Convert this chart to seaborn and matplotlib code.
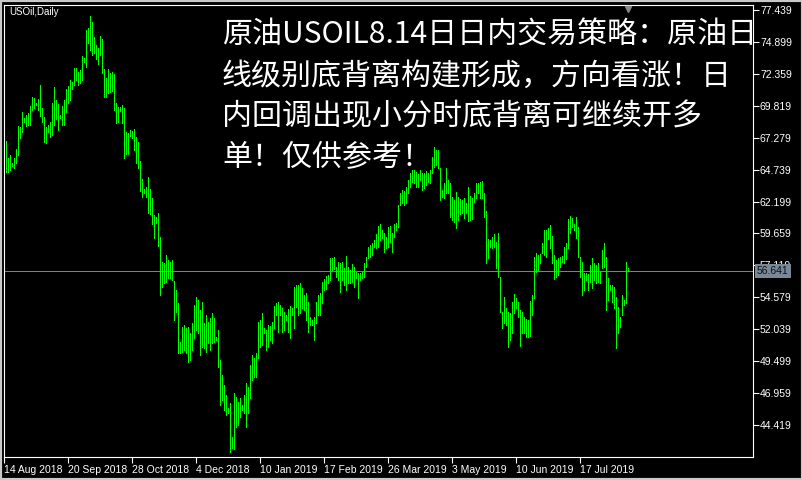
import numpy as np
import pandas as pd
import matplotlib
matplotlib.use("Agg")
import matplotlib.pyplot as plt
import seaborn as sns
from matplotlib.patches import Rectangle
from matplotlib.transforms import blended_transform_factory, offset_copy

# ---------------- data (daily USOil bars: high / low) ----------------
highs = [
    67.02, 65.70, 65.91, 65.30, 65.70, 66.38, 68.21, 68.16, 69.33, 68.82,
    69.09, 69.27, 69.80, 70.54, 70.41, 70.07, 70.36, 71.47, 69.67, 68.95,
    68.16, 68.27, 68.56, 70.04, 71.29, 70.28, 69.96, 69.09, 69.80, 70.28,
    71.13, 71.39, 71.87, 71.74, 72.85, 72.80, 72.53, 72.66, 73.78, 73.59,
    75.85, 75.98, 76.96, 76.48, 75.31, 74.65, 74.39, 75.37, 75.10, 72.74,
    72.00, 72.72, 72.40, 72.53, 72.35, 70.01, 69.75, 69.75, 69.88, 69.62,
    67.73, 67.63, 67.89, 67.81, 67.97, 67.36, 66.97, 65.43, 63.99, 63.17,
    63.38, 64.17, 63.22, 62.45, 61.13, 60.94, 61.31,
    59.40, 57.42, 57.29, 57.95, 57.55, 57.42, 57.55, 55.91, 55.16, 54.09,
    51.05, 52.24, 52.37, 52.11, 52.24, 51.71, 52.50, 53.96, 54.63, 54.36,
    53.56, 54.23, 52.50, 53.17, 52.64, 52.90, 53.30, 52.90, 51.44, 51.97,
    49.59, 48.40, 47.60, 46.81, 45.75, 46.15, 43.48, 46.94, 46.68, 46.28,
    46.54, 46.01, 46.81, 47.74, 47.47, 49.19, 49.99, 49.72, 50.12, 52.64,
    52.77, 53.36, 52.11, 51.97, 52.37, 52.29, 52.64, 53.88, 54.09, 54.23,
    53.96, 53.70, 53.43, 53.17, 53.62, 53.88, 53.70, 55.37, 55.56, 55.56,
    55.75, 55.29, 54.76, 54.89, 54.23, 52.98, 52.77, 53.03, 54.23, 54.76,
    54.89, 55.83, 56.01, 56.28, 56.36, 57.68, 57.68, 57.82, 57.02, 57.42,
    57.29, 57.42, 56.89, 57.87, 57.02, 56.75, 57.20, 57.02, 56.62, 56.49,
    56.49, 56.62, 57.29, 57.82, 58.61, 58.74, 58.93, 59.14, 59.61, 60.25,
    60.41, 59.93, 59.67, 59.35, 60.20, 60.25, 59.72, 60.41, 60.51, 61.92,
    62.90, 63.12, 63.06, 63.38, 63.91, 64.44, 64.71, 64.71, 64.57, 64.39,
    64.71, 64.44, 64.50, 64.66, 64.44, 64.71, 65.77, 66.56, 66.30, 66.30,
    64.84, 63.12, 63.70, 64.84, 63.91, 63.70, 62.58, 62.32, 62.98, 62.58,
    62.40, 62.32, 62.45, 62.11, 63.33, 62.64, 62.45, 62.85, 63.65, 63.70,
    63.78, 63.86, 62.90, 61.48, 59.19, 59.14, 59.35, 59.59, 59.01, 59.72,
    56.22, 53.43, 54.63, 53.70, 53.43, 53.30, 54.23, 54.84, 54.55, 54.23,
    53.56, 53.43, 52.98, 52.82, 52.77, 54.31, 54.76, 57.82, 58.08, 57.95,
    58.03, 58.87, 59.93, 59.93, 60.07, 60.33, 59.46, 57.95, 57.55, 57.68,
    57.82, 57.87, 58.56, 58.87, 60.78, 61.05, 60.91, 60.41, 60.99, 60.20,
    57.82, 57.42, 56.54, 56.54, 56.44, 57.15, 57.68, 57.29, 57.15, 57.29,
    56.62, 58.34, 58.87, 57.82, 56.09, 55.56, 55.56, 55.37, 54.63, 53.78,
    53.03, 54.76, 54.36, 57.42, 56.89,
]
lows = [
    64.57, 64.57, 64.70, 65.03, 64.84, 65.30, 65.91, 67.29, 67.76, 68.56,
    68.24, 68.29, 68.29, 69.48, 69.62, 69.88, 69.48, 69.03, 68.56, 66.97,
    66.89, 67.76, 67.36, 67.50, 68.29, 68.74, 67.89, 68.82, 68.32, 68.29,
    69.35, 70.01, 70.28, 71.13, 71.47, 71.87, 71.47, 71.66, 71.87, 73.33,
    72.93, 74.78, 74.25, 73.86, 73.99, 73.51, 73.14, 73.86, 72.40, 70.49,
    70.54, 70.86, 70.94, 71.02, 69.48, 68.48, 68.56, 69.43, 68.43, 65.70,
    65.98, 65.98, 67.42, 67.23, 66.30, 65.30, 64.84, 63.06, 62.58, 62.85,
    62.58, 61.31, 61.18, 60.41, 59.27, 60.51, 58.69,
    54.77, 55.43, 55.69, 55.83, 56.09, 56.09, 55.96, 52.77, 53.43, 50.12,
    50.12, 50.25, 50.38, 50.12, 49.46, 49.59, 50.38, 51.31, 51.97, 51.71,
    49.99, 50.65, 50.52, 50.25, 50.91, 50.38, 50.91, 51.05, 51.18, 49.06,
    46.01, 46.41, 45.61, 45.22, 45.35, 42.29, 42.56, 42.48, 44.28, 44.42,
    45.02, 45.61, 45.35, 44.28, 45.35, 46.54, 48.00, 48.27, 48.27, 49.72,
    50.65, 50.78, 51.71, 50.38, 50.65, 51.18, 50.91, 52.11, 53.17, 51.84,
    53.17, 51.84, 51.97, 52.77, 51.84, 51.31, 53.17, 52.11, 53.83, 53.17,
    53.30, 53.70, 53.56, 52.77, 51.84, 52.37, 52.37, 51.18, 52.50, 53.17,
    53.17, 54.09, 55.16, 55.21, 55.69, 55.96, 56.75, 56.81, 56.22, 55.96,
    55.03, 55.96, 55.56, 55.16, 55.69, 55.69, 55.83, 55.43, 56.09, 54.50,
    55.96, 56.09, 56.22, 57.02, 57.68, 57.82, 57.95, 58.61, 58.48, 58.61,
    59.14, 59.27, 58.21, 58.48, 58.61, 59.01, 58.21, 59.40, 59.93, 60.20,
    61.92, 62.05, 61.92, 62.11, 62.85, 63.38, 63.78, 63.65, 63.38, 63.38,
    63.91, 63.12, 63.25, 63.51, 63.78, 63.65, 64.50, 64.97, 65.11, 64.84,
    62.32, 62.58, 62.45, 62.85, 62.85, 60.99, 60.73, 60.60, 60.07, 60.73,
    61.21, 61.26, 60.86, 61.26, 60.67, 60.73, 60.78, 62.19, 62.45, 62.85,
    62.45, 62.45, 60.99, 57.34, 57.68, 58.61, 58.48, 58.61, 56.89, 56.17,
    53.43, 52.11, 52.50, 52.37, 50.60, 51.18, 51.71, 53.30, 53.70, 53.03,
    50.70, 51.71, 51.71, 51.44, 51.44, 51.50, 53.17, 54.50, 56.62, 56.75,
    57.29, 58.08, 57.95, 57.76, 59.19, 58.48, 57.29, 56.01, 56.22, 56.36,
    57.02, 57.42, 57.29, 57.60, 58.48, 59.67, 60.15, 59.93, 59.27, 57.82,
    56.22, 54.76, 55.16, 55.96, 55.16, 55.83, 55.29, 55.96, 55.69, 55.83,
    55.69, 56.89, 57.02, 53.56, 54.36, 55.16, 54.23, 53.70, 50.52, 51.71,
    52.24, 53.17, 53.96, 54.10, 56.64,
]
last_price = 56.641
price_ticks = [77.439, 74.899, 72.359, 69.819, 67.279, 64.739, 62.199,
               59.659, 57.119, 54.579, 52.039, 49.499, 46.959, 44.419]
date_labels = ["14 Aug 2018", "20 Sep 2018", "28 Oct 2018", "4 Dec 2018",
               "10 Jan 2019", "17 Feb 2019", "26 Mar 2019", "3 May 2019",
               "10 Jun 2019", "17 Jul 2019"]
date_label_bars = [0, 32, 64, 96, 128, 160, 192, 224, 256, 288]
symbol_label = "USOil,Daily"
headline = ["原油USOIL8.14日日内交易策略：原油日",
            "线级别底背离构建形成，方向看涨！日",
            "内回调出现小分时底背离可继续开多",
            "单！仅供参考！"]

# ---------------- figure ----------------
sns.set_style("dark")
plt.rcParams["font.family"] = ["Liberation Sans", "DejaVu Sans"]

W, H = 803, 480
fig = plt.figure(figsize=(W / 100, H / 100), dpi=100, facecolor="black")
ax = fig.add_axes([4 / W, 1 - 457 / H, 749 / W, (457 - 4.7) / H])
ax.set_facecolor("black")

n = len(highs)
bars = np.arange(n)
df = pd.DataFrame({
    "bar": np.repeat(bars, 2),
    "price": np.column_stack([lows, highs]).ravel(),
})
sns.lineplot(data=df, x="bar", y="price", units="bar", estimator=None,
             sort=False, color="#00ff00", linewidth=0.7, ax=ax, legend=False)
for ln in ax.lines:
    ln.set_antialiased(False)
    ln.set_solid_capstyle("butt")

ax.axhline(last_price, color="#778899", linewidth=0.7, zorder=1)

ax.set_xlim(-1, 373.5)
ax.set_ylim(41.87, 77.86)
ax.grid(False)
ax.set_xlabel("")
ax.set_ylabel("")

for sp in ax.spines.values():
    sp.set_visible(True)
    sp.set_color("white")
    sp.set_linewidth(0.8)

ax.yaxis.tick_right()
ax.set_yticks(price_ticks)
ax.set_yticklabels([f"{v:.3f}" for v in price_ticks])
ax.tick_params(axis="y", colors="white", labelcolor="white", length=4,
               width=0.8, labelsize=7.5, pad=1, direction="out", right=True, left=False)

ax.set_xticks([b - 0.8 for b in date_label_bars])
ax.set_xticklabels(date_labels)
for t in ax.get_xticklabels():
    t.set_horizontalalignment("left")
ax.tick_params(axis="x", colors="white", labelcolor="white", length=4,
               width=0.8, labelsize=7.5, pad=1.5, direction="out", bottom=True)

# current price label box
trans = blended_transform_factory(ax.transAxes, ax.transData)
trans = offset_copy(trans, fig=fig, x=4, y=0, units="dots")
ax.text(1.0, last_price, f"{last_price:.3f}", transform=trans, ha="left",
        va="center", fontsize=7.5, color="#101010", clip_on=False, zorder=6,
        bbox=dict(boxstyle="square,pad=0.2", fc="#778899", ec="none"))

# chart-shift marker
ax.plot([n - 1], [77.55], marker="v", ms=5, color="#8a8a8a", clip_on=False,
        zorder=6, linestyle="none")

# symbol label
fig.text(9 / W, 1 - 12 / H, symbol_label, fontsize=7, color="white", va="center")

# headline text
baselines = [44, 85, 125, 166]
for txt, yb in zip(headline, baselines):
    fig.text(222 / W, 1 - yb / H, txt, fontsize=21.6, color="white",
             family=["Noto Sans CJK SC", "DejaVu Sans"], va="baseline", zorder=10)

# outer window frame
fig.patches.append(Rectangle((0, 0), 1, 1, transform=fig.transFigure, fill=False,
                             ec="#c8c8c8", lw=3, zorder=20))

fig.savefig("out.png", dpi=100, facecolor="black")
